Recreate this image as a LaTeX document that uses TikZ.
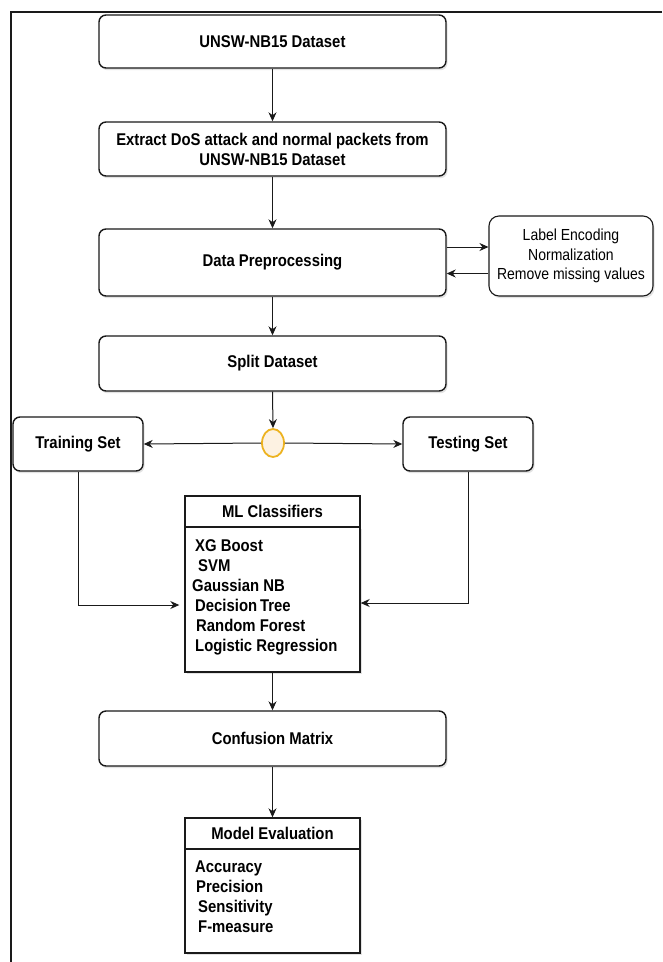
\documentclass[tikz,border=0pt]{standalone}
\usepackage{fontspec}
\setmainfont{Liberation Sans}[FakeStretch=0.875]
\usetikzlibrary{arrows.meta,shapes.geometric,shadows,calc}
\definecolor{lineblack}{HTML}{1A1A1A}
\definecolor{circfill}{HTML}{FDF2E2}
\definecolor{circline}{HTML}{EDB321}
\tikzset{
  boxshadow/.style={drop shadow={shadow xshift=1.5pt,shadow yshift=-2.2pt,opacity=0.22,fill=gray}},
  rbox/.style={draw=lineblack,line width=1.4pt,rounded corners=7pt,fill=white,boxshadow,
    inner sep=0pt,align=center,font=\bfseries\fontsize{17}{20}\selectfont},
  sidebox/.style={draw=lineblack,line width=1.1pt,rounded corners=10pt,fill=white,boxshadow,
    inner sep=0pt,align=center,font=\fontsize{16}{19.5}\selectfont},
  headbox/.style={draw=lineblack,line width=1.4pt,fill=white,inner sep=0pt,
    font=\bfseries\fontsize{17}{20}\selectfont},
  bodybox/.style={draw=lineblack,line width=1.4pt,fill=white,inner sep=0pt},
  listtext/.style={inner sep=0pt,anchor=north west,align=left,
    font=\bfseries\fontsize{17}{20}\selectfont},
  splitdot/.style={ellipse,draw=circline,fill=circfill,line width=1.8pt,
    minimum width=22pt,minimum height=28pt,inner sep=0pt},
  arr/.style={draw=lineblack,line width=1pt,-{Stealth[length=9pt,width=8pt]}},
}
\begin{document}
\begin{tikzpicture}[x=1pt,y=-1pt]
\useasboundingbox[fill=white] (0,0) rectangle (662,962);
% outer frame (only top and left edges visible)
\draw[lineblack,line width=1.3pt] (662,12) -- (11,12) -- (11,962);

\node[rbox,minimum width=347pt,minimum height=53pt] (unsw) at (272.5,41.5) {UNSW-NB15 Dataset};
\node[rbox,minimum width=347pt,minimum height=54pt] (extract) at (272.5,149)
  {Extract DoS attack and normal packets from\\UNSW-NB15 Dataset};
\node[rbox,minimum width=347pt,minimum height=67pt] (prep) at (272.5,262.5) {Data Preprocessing};
\node[sidebox,minimum width=164pt,minimum height=80pt] (side) at (571,256)
  {Label Encoding\\Normalization\\Remove missing values};
\node[rbox,minimum width=347pt,minimum height=55pt] (split) at (272.5,363.5) {Split Dataset};
\node[splitdot] (dot) at (273,443) {};
\node[rbox,minimum width=130pt,minimum height=54pt] (train) at (78,444) {Training Set};
\node[rbox,minimum width=130pt,minimum height=54pt] (test) at (468,444) {Testing Set};

% ML classifiers box
\node[bodybox,boxshadow,minimum width=175pt,minimum height=145pt] (mlbody) at (272.5,599.5) {};
\node[headbox,minimum width=175pt,minimum height=31pt] (mlhead) at (272.5,511.5) {ML Classifiers};
\node[listtext] (mllist) at (192,539)
  {\hspace{3pt}XG Boost\\\hspace{6pt}SVM\\Gaussian NB\\\hspace{3pt}Decision\,Tree\\\hspace{4pt}Random Forest\\\hspace{3pt}Logistic Regression};

\node[rbox,minimum width=347pt,minimum height=55pt] (conf) at (272.5,738.5) {Confusion Matrix};

% Model evaluation box
\node[bodybox,boxshadow,minimum width=175pt,minimum height=135pt] (evbody) at (272.5,885.5) {};
\node[headbox,minimum width=175pt,minimum height=31pt] (evhead) at (272.5,833.5) {Model Evaluation};
\node[listtext] (evlist) at (195,861)
  {Accuracy\\\hspace{1pt}Precision\\\hspace{3pt}Sensitivity\\\hspace{3pt}F-measure};

% connectors
\draw[arr] (unsw.south) -- (extract.north);
\draw[arr] (extract.south) -- (prep.north);
\draw[arr] (prep.south) -- (split.north);
\draw[arr] ([yshift=15.5pt]prep.east) -- ([yshift=15.5pt]prep.east -| side.west);
\draw[arr] ([yshift=-17.5pt]side.west) -- ([yshift=-17.5pt]side.west -| prep.east);
\draw[arr] (split.south) -- (dot.north);
\draw[arr] (dot.west) -- (train.east);
\draw[arr] (dot.east) -- (test.west);
\draw[arr,shorten >=5pt] (train.south) |- ([yshift=-5.5pt]mlbody.west);
\draw[arr] (test.south) |- ([yshift=-3.5pt]mlbody.east);
\draw[arr] (mlbody.south) -- (conf.north);
\draw[arr] (conf.south) -- (evhead.north);
\end{tikzpicture}
\end{document}
